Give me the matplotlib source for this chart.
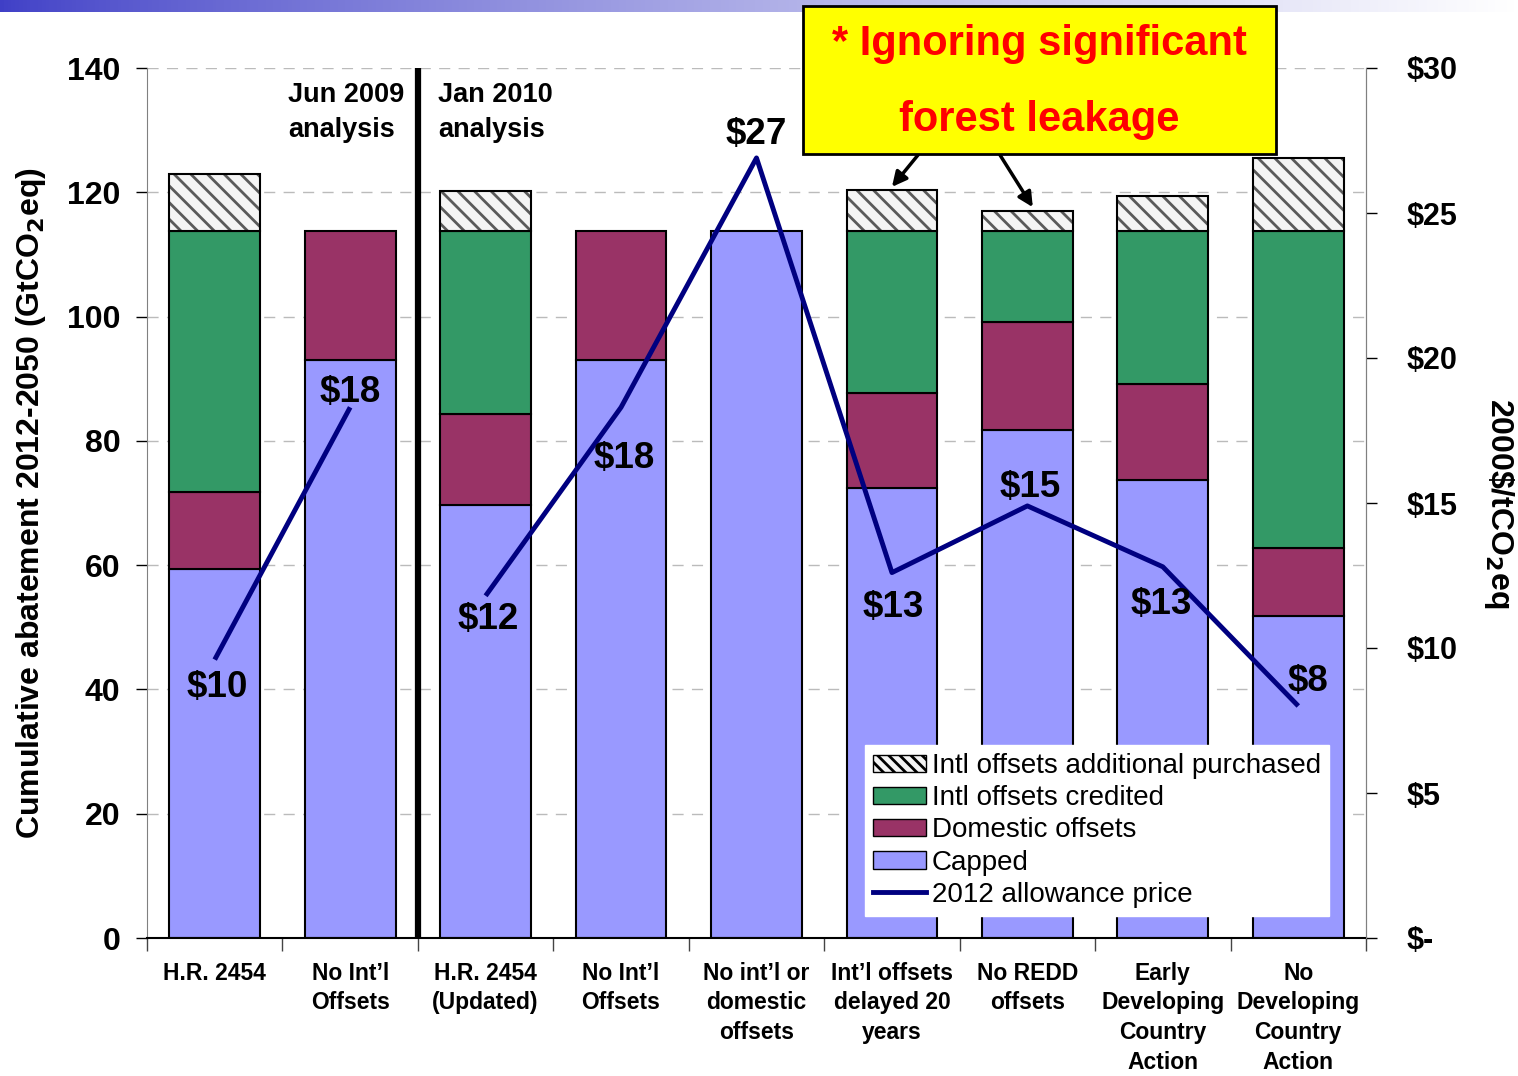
import numpy as np
import matplotlib
matplotlib.use('Agg')
import matplotlib.pyplot as plt
from matplotlib.patches import Patch, Rectangle
from matplotlib.lines import Line2D
from matplotlib.ticker import FuncFormatter

plt.rcParams['font.family'] = ['Liberation Sans', 'DejaVu Sans']
plt.rcParams['hatch.linewidth'] = 2.0

### DATA (GtCO2eq cumulative abatement, 2000$/tCO2eq price)
categories = ['H.R. 2454', 'No Int\u2019l\nOffsets', 'H.R. 2454\n(Updated)', 'No Int\u2019l\nOffsets',
              'No int\u2019l or\ndomestic\noffsets', 'Int\u2019l offsets\ndelayed 20\nyears',
              'No REDD\noffsets', 'Early\nDeveloping\nCountry\nAction', 'No\nDeveloping\nCountry\nAction']
capped = [59.4, 93.0, 69.7, 93.0, 113.8, 72.4, 81.8, 73.7, 51.8]
domestic = [12.4, 20.8, 14.6, 20.8, 0.0, 15.3, 17.3, 15.5, 11.0]
intl_credited = [42.0, 0.0, 29.5, 0.0, 0.0, 26.1, 14.7, 24.6, 51.0]
intl_purchased = [9.1, 0.0, 6.4, 0.0, 0.0, 6.6, 3.2, 5.6, 11.7]
price = [9.6, 18.3, 11.8, 18.3, 26.9, 12.6, 14.9, 12.8, 8.0]

### LABEL OFFSETS FOR THE PRICE TAGS (points)
price_offsets = [(2, -20), (0, 11), (2, -17), (2, -37), (0, 17), (1, -25), (2, 13), (-1, -27), (7, 18)]

C_CAPPED = '#9999FF'
C_DOM = '#993366'
C_INTL = '#339966'
C_LINE = '#000080'
C_HATCH_BG = '#f4f4f4'
C_HATCH = '#5a5a5a'

fig = plt.figure(figsize=(15.18, 10.76), dpi=100)
ax = fig.add_axes([147/1518, 138/1076, 1219/1518, 870/1076])
x = np.arange(len(categories))
w = 0.67

### STACKED BARS
bottom = np.zeros(len(categories))
for vals, col in [(capped, C_CAPPED), (domestic, C_DOM), (intl_credited, C_INTL)]:
  v = np.array(vals)
  mask = v > 0
  ax.bar(x[mask], v[mask], w, bottom=bottom[mask], color=col, edgecolor='black', linewidth=1.5, zorder=2)
  bottom += v
v = np.array(intl_purchased)
mask = v > 0
# hatch drawn in gray first, then a black outline on top
ax.bar(x[mask], v[mask], w, bottom=bottom[mask], facecolor=C_HATCH_BG, edgecolor=C_HATCH, linewidth=0,
       hatch='\\\\', zorder=2)
ax.bar(x[mask], v[mask], w, bottom=bottom[mask], facecolor='none', edgecolor='black', linewidth=1.5, zorder=2)

ax.set_xlim(-0.5, len(categories) - 0.5)
ax.set_ylim(0, 140)
ax.set_yticks(np.arange(0, 141, 20))
ax.yaxis.grid(True, linestyle=(0, (8, 6)), color='#bbbbbb', linewidth=1)
ax.set_axisbelow(True)
ax.axvline(1.5, color='black', linewidth=4.5, zorder=3)

ax.set_xticks(x)
ax.set_xticklabels(categories, fontsize=16.5, fontweight='bold', linespacing=1.38)
ax.tick_params(axis='x', which='major', length=0, pad=17)
ax.set_xticks(np.arange(-0.5, len(categories), 1), minor=True)
ax.tick_params(axis='x', which='minor', length=9, width=1, color='#444444', direction='out')
ax.tick_params(axis='y', labelsize=23, length=8, width=1, pad=11)
for t in ax.get_yticklabels():
  t.set_fontweight('bold')

ax.spines['top'].set_visible(False)
ax.spines['left'].set_color('#808080')
ax.spines['right'].set_color('#808080')
ax.spines['bottom'].set_linewidth(1.5)

ax.set_ylabel('Cumulative abatement 2012-2050 (GtCO$_\\mathbf{2}$eq)', fontsize=23, fontweight='bold', labelpad=14)

### PRICE LINE ON RIGHT AXIS
ax2 = ax.twinx()
ax2.set_ylim(0, 30)
ax2.set_yticks(np.arange(0, 31, 5))
ax2.yaxis.set_major_formatter(FuncFormatter(lambda v, p: '$-' if v == 0 else '$%d' % v))
ax2.tick_params(axis='y', labelsize=22, length=8, width=1, pad=21)
for t in ax2.get_yticklabels():
  t.set_fontweight('bold')
for s in ['top', 'left', 'bottom']:
  ax2.spines[s].set_visible(False)
ax2.spines['right'].set_color('#808080')

ax2.plot(x[:2], price[:2], color=C_LINE, linewidth=3.5, solid_capstyle='butt')
ax2.plot(x[2:], price[2:], color=C_LINE, linewidth=3.5, solid_capstyle='butt')
for i, p in enumerate(price):
  ax2.annotate('$%d' % round(p), (x[i], p), xytext=price_offsets[i], textcoords='offset points',
               ha='center', va='center', fontsize=26.5, fontweight='bold')

ax2.set_ylabel('2000\\$/tCO$_\\mathbf{2}$eq', fontsize=23, fontweight='bold', rotation=-90, labelpad=42)

### ANALYSIS HEADERS
ax.text(0.541, 132.8, 'Jun 2009\nanalysis', ha='left', va='center', fontsize=19.5, fontweight='bold', linespacing=1.45)
ax.text(1.649, 132.8, 'Jan 2010\nanalysis', ha='left', va='center', fontsize=19.5, fontweight='bold', linespacing=1.45)

### LEGEND
handles = [Patch(facecolor=C_HATCH_BG, edgecolor='black', hatch='\\\\\\', label='Intl offsets additional purchased'),
           Patch(facecolor=C_INTL, edgecolor='black', label='Intl offsets credited'),
           Patch(facecolor=C_DOM, edgecolor='black', label='Domestic offsets'),
           Patch(facecolor=C_CAPPED, edgecolor='black', label='Capped'),
           Line2D([0], [0], color=C_LINE, linewidth=3.5, label='2012 allowance price')]
leg = ax2.legend(handles=handles, loc='upper left', bbox_to_anchor=(0.589, 0.222), fontsize=20,
                 frameon=True, fancybox=False, framealpha=1, edgecolor='white', borderpad=0.3,
                 labelspacing=0.22, handlelength=1.9, handleheight=0.6, handletextpad=0.2, borderaxespad=0)
leg.set_zorder(10)

### CALLOUT BOX
fig.add_artist(Rectangle((803/1518, 1 - 154/1076), 473/1518, 148/1076, transform=fig.transFigure,
                         facecolor='#FFFF00', edgecolor='black', linewidth=2, zorder=5))
fig.text(1039/1518, 1 - 44/1076, '* Ignoring significant', ha='center', va='center', fontsize=30,
         fontweight='bold', color='#FF0000', zorder=6)
fig.text(1039/1518, 1 - 120/1076, 'forest leakage', ha='center', va='center', fontsize=30,
         fontweight='bold', color='#FF0000', zorder=6)
arrow = dict(arrowstyle='-|>', color='black', linewidth=2.5, mutation_scale=22, shrinkA=0, shrinkB=0)
ax2.annotate('', xy=(5.0, 25.9), xytext=(918/1518, 1 - 155/1076), textcoords='figure fraction', arrowprops=arrow)
ax2.annotate('', xy=(6.04, 25.2), xytext=(1000/1518, 1 - 155/1076), textcoords='figure fraction', arrowprops=arrow)

### HEADER STRIP
hdr = fig.add_axes([0, 1 - 12/1076, 1, 12/1076])
grad = np.linspace(0, 1, 400) ** 0.8
start = np.array([0.25, 0.25, 0.78])
end = np.array([1.0, 1.0, 1.0])
img = start[None, None, :] * (1 - grad[None, :, None]) + end[None, None, :] * grad[None, :, None]
hdr.imshow(img, aspect='auto', extent=(0, 1, 0, 1))
hdr.axis('off')

fig.savefig('out.png', dpi=100)
